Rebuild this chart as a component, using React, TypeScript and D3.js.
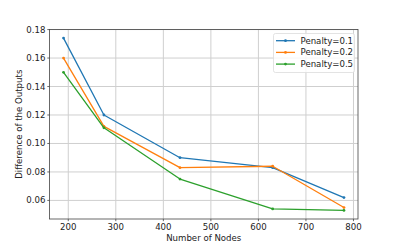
import React from "react";
import * as d3 from "d3";

const nodes = [190, 275, 435, 630, 780];
const penalty01 = [0.174, 0.12, 0.09, 0.083, 0.062];
const penalty02 = [0.16, 0.112, 0.083, 0.084, 0.055];
const penalty05 = [0.15, 0.111, 0.075, 0.054, 0.053];
const seriesNames = ["Penalty=0.1", "Penalty=0.2", "Penalty=0.5"];
const colors = ["#1f77b4", "#ff7f0e", "#2ca02c"];
const xTicks = [200, 300, 400, 500, 600, 700, 800];
const yTicks = [0.06, 0.08, 0.1, 0.12, 0.14, 0.16, 0.18];

export default function App() {
  const W = 398, H = 247;
  const left = 49.5, right = 358, top = 29.5, bottom = 219;
  const all = [...penalty01, ...penalty02, ...penalty05];
  const xMin = d3.min(nodes)!, xMax = d3.max(nodes)!;
  const yMin = d3.min(all)!, yMax = d3.max(all)!;
  const xm = (xMax - xMin) * 0.05, ym = (yMax - yMin) * 0.05;
  const x = d3.scaleLinear().domain([xMin - xm, xMax + xm]).range([left, right]);
  const y = d3.scaleLinear().domain([yMin - ym, yMax + ym]).range([bottom, top]);
  const series = [penalty01, penalty02, penalty05];
  const line = d3.line<number>().x((_, i) => x(nodes[i])).y((d) => y(d));
  const font = "DejaVu Sans, sans-serif";
  const fs = 8.6;
  return (
    <svg width={W} height={H} style={{ position: "absolute", left: 0, top: 0 }} fontFamily={font}>
      <rect width={W} height={H} fill="#fff" />
      {xTicks.map((t) => (
        <line key={"gx" + t} x1={x(t)} x2={x(t)} y1={top} y2={bottom} stroke="#cfcfcf" strokeWidth={1} />
      ))}
      {yTicks.map((t) => (
        <line key={"gy" + t} x1={left} x2={right} y1={y(t)} y2={y(t)} stroke="#cfcfcf" strokeWidth={1} />
      ))}
      {series.map((s, k) => (
        <g key={k}>
          <path d={line(s)!} fill="none" stroke={colors[k]} strokeWidth={1.3} strokeLinejoin="round" />
          {s.map((v, i) => (
            <circle key={i} cx={x(nodes[i])} cy={y(v)} r={1.4} fill={colors[k]} />
          ))}
        </g>
      ))}
      <rect x={left} y={top} width={right - left} height={bottom - top} fill="none" stroke="#444" strokeWidth={0.8} />
      {xTicks.map((t) => (
        <g key={"tx" + t}>
          <line x1={x(t)} x2={x(t)} y1={bottom} y2={bottom + 2.2} stroke="#444" strokeWidth={0.8} />
          <text x={x(t)} y={bottom + 11} fontSize={fs} textAnchor="middle" fill="#222">{t}</text>
        </g>
      ))}
      {yTicks.map((t) => (
        <g key={"ty" + t}>
          <line x1={left - 2.2} x2={left} y1={y(t)} y2={y(t)} stroke="#444" strokeWidth={0.8} />
          <text x={left - 4} y={y(t) + 3} fontSize={fs} textAnchor="end" fill="#222">{t.toFixed(2)}</text>
        </g>
      ))}
      <text x={(left + right) / 2} y={241} fontSize={fs} textAnchor="middle" fill="#222">Number of Nodes</text>
      <text transform={`translate(22,${(top + bottom) / 2}) rotate(-90)`} fontSize={fs} textAnchor="middle" fill="#222">Difference of the Outputs</text>
      <rect x={273.5} y={33.5} width={81} height={39} rx={2} fill="#fff" fillOpacity={0.8} stroke="#dcdcdc" strokeWidth={0.8} />
      {seriesNames.map((n, k) => {
        const ly = 40.7 + k * 11.7;
        return (
          <g key={n}>
            <line x1={276} x2={295} y1={ly} y2={ly} stroke={colors[k]} strokeWidth={1.3} />
            <circle cx={285.5} cy={ly} r={1.4} fill={colors[k]} />
            <text x={300.5} y={ly + 3} fontSize={fs} fill="#222">{n}</text>
          </g>
        );
      })}
    </svg>
  );
}
